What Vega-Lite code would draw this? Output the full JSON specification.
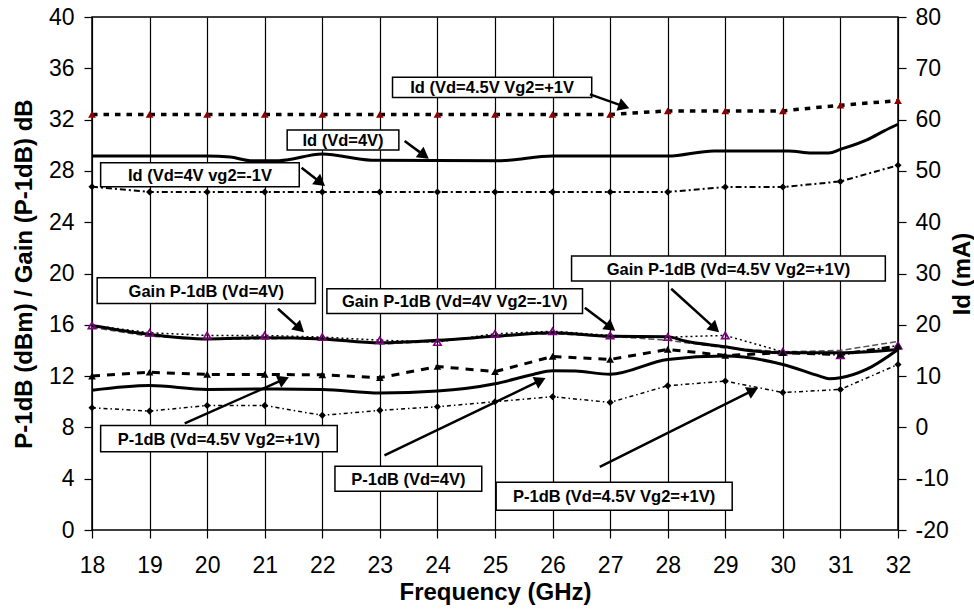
{
  "$schema": "https://vega.github.io/schema/vega-lite/v6.json",
  "width": 806,
  "height": 513,
  "autosize": "none",
  "padding": {"left": 92, "top": 17, "right": 76, "bottom": 81},
  "background": "white",
  "config": {
    "view": {"stroke": "black", "strokeWidth": 1.5},
    "font": "Liberation Sans",
    "axis": {
      "labelFont": "Liberation Sans", "labelFontSize": 23, "labelColor": "black",
      "titleFont": "Liberation Sans", "titleFontSize": 24, "titleFontWeight": "bold", "titleColor": "black",
      "domainColor": "black", "domainWidth": 1.5, "tickColor": "black", "tickWidth": 1.2, "tickSize": 8,
      "gridColor": "black", "gridOpacity": 1, "gridWidth": 1.2
    }
  },
  "datasets": {
    "series": [
      {"s": "IdA", "f": 18, "v": 61}, {"s": "IdA", "f": 19, "v": 61}, {"s": "IdA", "f": 20, "v": 61}, {"s": "IdA", "f": 21, "v": 61},
      {"s": "IdA", "f": 22, "v": 61}, {"s": "IdA", "f": 23, "v": 61}, {"s": "IdA", "f": 24, "v": 61}, {"s": "IdA", "f": 25, "v": 61},
      {"s": "IdA", "f": 26, "v": 61}, {"s": "IdA", "f": 27, "v": 61}, {"s": "IdA", "f": 28, "v": 61.7}, {"s": "IdA", "f": 29, "v": 61.7},
      {"s": "IdA", "f": 30, "v": 61.7}, {"s": "IdA", "f": 31, "v": 62.8}, {"s": "IdA", "f": 32, "v": 63.7},

      {"s": "IdB", "f": 18, "v": 52.9}, {"s": "IdB", "f": 19, "v": 52.9}, {"s": "IdB", "f": 20, "v": 52.9}, {"s": "IdB", "f": 20.4, "v": 52.7},
      {"s": "IdB", "f": 20.75, "v": 52.0}, {"s": "IdB", "f": 21.25, "v": 52.0}, {"s": "IdB", "f": 22.0, "v": 53.3}, {"s": "IdB", "f": 22.85, "v": 52.1},
      {"s": "IdB", "f": 25.1, "v": 52.0}, {"s": "IdB", "f": 26, "v": 52.9}, {"s": "IdB", "f": 28, "v": 52.9}, {"s": "IdB", "f": 28.8, "v": 53.9},
      {"s": "IdB", "f": 30.1, "v": 53.9}, {"s": "IdB", "f": 30.5, "v": 53.5}, {"s": "IdB", "f": 30.8, "v": 53.5}, {"s": "IdB", "f": 31.0, "v": 54.2},
      {"s": "IdB", "f": 31.47, "v": 56.1}, {"s": "IdB", "f": 31.76, "v": 57.8}, {"s": "IdB", "f": 32, "v": 59.1},

      {"s": "IdC", "f": 18, "v": 46.9}, {"s": "IdC", "f": 19, "v": 45.9}, {"s": "IdC", "f": 20, "v": 45.9}, {"s": "IdC", "f": 21, "v": 45.9},
      {"s": "IdC", "f": 22, "v": 45.9}, {"s": "IdC", "f": 23, "v": 45.9}, {"s": "IdC", "f": 24, "v": 45.9}, {"s": "IdC", "f": 25, "v": 45.9},
      {"s": "IdC", "f": 26, "v": 45.9}, {"s": "IdC", "f": 27, "v": 45.9}, {"s": "IdC", "f": 28, "v": 45.9}, {"s": "IdC", "f": 29, "v": 46.85},
      {"s": "IdC", "f": 30, "v": 46.85}, {"s": "IdC", "f": 31, "v": 47.95}, {"s": "IdC", "f": 32, "v": 51.1},

      {"s": "GA", "f": 18, "v": 15.95}, {"s": "GA", "f": 19, "v": 15.38}, {"s": "GA", "f": 20, "v": 15.17}, {"s": "GA", "f": 21, "v": 15.17},
      {"s": "GA", "f": 22, "v": 15.04}, {"s": "GA", "f": 23, "v": 14.8}, {"s": "GA", "f": 24, "v": 14.65}, {"s": "GA", "f": 25, "v": 15.3},
      {"s": "GA", "f": 26, "v": 15.5}, {"s": "GA", "f": 27, "v": 15.17}, {"s": "GA", "f": 28, "v": 15.04}, {"s": "GA", "f": 29, "v": 15.17},
      {"s": "GA", "f": 30, "v": 13.9}, {"s": "GA", "f": 31, "v": 13.63}, {"s": "GA", "f": 32, "v": 14.39},

      {"s": "GB", "f": 18, "v": 15.95}, {"s": "GB", "f": 19, "v": 15.25}, {"s": "GB", "f": 20, "v": 14.9}, {"s": "GB", "f": 21, "v": 15.0},
      {"s": "GB", "f": 22, "v": 14.9}, {"s": "GB", "f": 23, "v": 14.6}, {"s": "GB", "f": 24, "v": 14.8}, {"s": "GB", "f": 25, "v": 15.1},
      {"s": "GB", "f": 26, "v": 15.38}, {"s": "GB", "f": 27, "v": 15.1}, {"s": "GB", "f": 28, "v": 15.07}, {"s": "GB", "f": 28.3, "v": 14.73},
      {"s": "GB", "f": 29, "v": 14.29}, {"s": "GB", "f": 29.5, "v": 13.95}, {"s": "GB", "f": 30, "v": 13.82}, {"s": "GB", "f": 31, "v": 13.82},
      {"s": "GB", "f": 32, "v": 14.08},

      {"s": "GC", "f": 18, "v": 15.8}, {"s": "GC", "f": 19, "v": 15.1}, {"s": "GC", "f": 20, "v": 14.9}, {"s": "GC", "f": 21, "v": 14.9},
      {"s": "GC", "f": 22, "v": 15.0}, {"s": "GC", "f": 23, "v": 14.5}, {"s": "GC", "f": 24, "v": 14.7}, {"s": "GC", "f": 25, "v": 15.2},
      {"s": "GC", "f": 26, "v": 15.3}, {"s": "GC", "f": 27, "v": 15.1}, {"s": "GC", "f": 28, "v": 14.8}, {"s": "GC", "f": 29, "v": 14.2},
      {"s": "GC", "f": 30, "v": 13.9}, {"s": "GC", "f": 31, "v": 14.0}, {"s": "GC", "f": 32, "v": 14.7},

      {"s": "PA", "f": 18, "v": 12.0}, {"s": "PA", "f": 19, "v": 12.3}, {"s": "PA", "f": 20, "v": 12.13}, {"s": "PA", "f": 21, "v": 12.13},
      {"s": "PA", "f": 22, "v": 12.1}, {"s": "PA", "f": 23, "v": 11.87}, {"s": "PA", "f": 24, "v": 12.75}, {"s": "PA", "f": 25, "v": 12.35},
      {"s": "PA", "f": 26, "v": 13.53}, {"s": "PA", "f": 27, "v": 13.3}, {"s": "PA", "f": 28, "v": 14.08}, {"s": "PA", "f": 29, "v": 13.61},
      {"s": "PA", "f": 30, "v": 13.82}, {"s": "PA", "f": 31, "v": 13.69}, {"s": "PA", "f": 32, "v": 14.34},

      {"s": "PB", "f": 18, "v": 10.9}, {"s": "PB", "f": 19, "v": 11.27}, {"s": "PB", "f": 20, "v": 10.96}, {"s": "PB", "f": 21, "v": 11.0},
      {"s": "PB", "f": 22, "v": 10.96}, {"s": "PB", "f": 23, "v": 10.68}, {"s": "PB", "f": 24, "v": 10.83}, {"s": "PB", "f": 25, "v": 11.4},
      {"s": "PB", "f": 25.66, "v": 12.13}, {"s": "PB", "f": 26, "v": 12.42}, {"s": "PB", "f": 26.4, "v": 12.39}, {"s": "PB", "f": 27, "v": 12.15},
      {"s": "PB", "f": 28, "v": 13.3}, {"s": "PB", "f": 29, "v": 13.56}, {"s": "PB", "f": 30, "v": 12.91}, {"s": "PB", "f": 30.64, "v": 12.0},
      {"s": "PB", "f": 30.8, "v": 11.8}, {"s": "PB", "f": 31, "v": 11.87}, {"s": "PB", "f": 31.45, "v": 12.52}, {"s": "PB", "f": 32, "v": 14.08},

      {"s": "PC", "f": 18, "v": 9.53}, {"s": "PC", "f": 19, "v": 9.27}, {"s": "PC", "f": 20, "v": 9.71}, {"s": "PC", "f": 21, "v": 9.71},
      {"s": "PC", "f": 22, "v": 8.94}, {"s": "PC", "f": 23, "v": 9.33}, {"s": "PC", "f": 24, "v": 9.61}, {"s": "PC", "f": 25, "v": 10.0},
      {"s": "PC", "f": 26, "v": 10.39}, {"s": "PC", "f": 27, "v": 9.95}, {"s": "PC", "f": 28, "v": 11.25}, {"s": "PC", "f": 29, "v": 11.61},
      {"s": "PC", "f": 30, "v": 10.72}, {"s": "PC", "f": 31, "v": 10.96}, {"s": "PC", "f": 32, "v": 12.91}
    ],
    "notes": [
      {"label": "Id (Vd=4.5V  Vg2=+1V", "bx": 23.22, "bx2": 26.68, "by": 35.3, "by2": 33.73, "ax": 26.65, "ay": 33.97, "ax2": 27.24, "ay2": 33.03},
      {"label": "Id (Vd=4V)", "bx": 21.39, "bx2": 23.33, "by": 31.19, "by2": 29.63, "ax": 23.43, "ay": 30.33, "ax2": 23.77, "ay2": 29.21},
      {"label": "Id (Vd=4V vg2=-1V", "bx": 18.15, "bx2": 21.6, "by": 28.64, "by2": 26.77, "ax": 21.64, "ay": 28.25, "ax2": 21.97, "ay2": 27.1},
      {"label": "Gain P-1dB (Vd=4V)", "bx": 18.09, "bx2": 21.88, "by": 19.67, "by2": 17.67, "ax": 21.23, "ay": 17.25, "ax2": 21.61, "ay2": 15.72},
      {"label": "Gain P-1dB (Vd=4V Vg2=-1V)", "bx": 22.08, "bx2": 26.52, "by": 18.81, "by2": 16.89, "ax": 26.56, "ay": 17.33, "ax2": 27.01, "ay2": 15.8},
      {"label": "Gain P-1dB (Vd=4.5V  Vg2=+1V)", "bx": 26.33, "bx2": 31.78, "by": 21.36, "by2": 19.41, "ax": 28.06, "ay": 18.81, "ax2": 28.82, "ay2": 15.72},
      {"label": "P-1dB (Vd=4.5V Vg2=+1V)", "bx": 18.15, "bx2": 22.26, "by": 8.15, "by2": 6.1, "ax": 19.61, "ay": 8.31, "ax2": 21.33, "ay2": 11.74},
      {"label": "P-1dB (Vd=4V)", "bx": 22.22, "bx2": 24.77, "by": 4.98, "by2": 3.03, "ax": 23.08, "ay": 5.81, "ax2": 25.79, "ay2": 11.66},
      {"label": "P-1dB (Vd=4.5V Vg2=+1V)", "bx": 25.02, "bx2": 29.12, "by": 3.73, "by2": 1.54, "ax": 26.82, "ay": 4.93, "ax2": 29.48, "ay2": 10.88}
    ]
  },
  "layer": [
    {
      "data": {"name": "series"},
      "layer": [
        {
          "transform": [{"filter": "datum.s === 'IdB'"}],
          "mark": {"type": "line", "color": "black", "strokeWidth": 3, "interpolate": "monotone"},
          "encoding": {
            "x": {"field": "f", "type": "quantitative", "scale": {"domain": [18, 32], "nice": false}},
            "y": {"field": "v", "type": "quantitative", "scale": {"domain": [-20, 80], "nice": false, "zero": false},
                  "axis": {"orient": "right", "title": "Id (mA)", "values": [-20, -10, 0, 10, 20, 30, 40, 50, 60, 70, 80], "grid": false,
                           "labelExpr": "'' + datum.value", "labelPadding": 9, "titleAngle": 270, "titleBaseline": "top", "titlePadding": 2, "domain": false}}
          }
        },
        {
          "transform": [{"filter": "datum.s === 'IdC'"}],
          "mark": {"type": "line", "color": "black", "strokeWidth": 2, "strokeDash": [6, 3, 2, 3]},
          "encoding": {"x": {"field": "f", "type": "quantitative"}, "y": {"field": "v", "type": "quantitative"}}
        },
        {
          "transform": [{"filter": "datum.s === 'IdC'"}],
          "mark": {"type": "point", "shape": "diamond", "filled": true, "color": "black", "size": 50, "opacity": 1},
          "encoding": {"x": {"field": "f", "type": "quantitative"}, "y": {"field": "v", "type": "quantitative"}}
        },
        {
          "transform": [{"filter": "datum.s === 'IdA'"}],
          "mark": {"type": "line", "color": "black", "strokeWidth": 3.5, "strokeDash": [5.5, 6]},
          "encoding": {"x": {"field": "f", "type": "quantitative"}, "y": {"field": "v", "type": "quantitative"}}
        },
        {
          "transform": [{"filter": "datum.s === 'IdA'"}],
          "mark": {"type": "point", "shape": "triangle-up", "filled": true, "color": "#8B0000", "size": 60, "opacity": 1},
          "encoding": {"x": {"field": "f", "type": "quantitative"}, "y": {"field": "v", "type": "quantitative"}}
        }
      ]
    },
    {
      "layer": [
        {
          "data": {"name": "series"},
          "transform": [{"filter": "datum.s === 'GC'"}],
          "mark": {"type": "line", "color": "#555555", "strokeWidth": 1.5, "strokeDash": [6, 3]},
          "encoding": {
            "x": {"field": "f", "type": "quantitative", "scale": {"domain": [18, 32], "nice": false},
                  "axis": {"title": "Frequency (GHz)", "values": [18, 19, 20, 21, 22, 23, 24, 25, 26, 27, 28, 29, 30, 31, 32],
                           "format": "d", "labelPadding": 16, "titlePadding": 3, "labelFlush": false, "domain": false}},
            "y": {"field": "v", "type": "quantitative", "scale": {"domain": [0, 40], "nice": false},
                  "axis": {"orient": "left", "title": "P-1dB (dBm) / Gain (P-1dB) dB",
                           "values": [0, 2, 4, 6, 8, 10, 12, 14, 16, 18, 20, 22, 24, 26, 28, 30, 32, 34, 36, 38, 40],
                           "labelExpr": "datum.value % 4 === 0 ? datum.label : ''",
                           "tickOpacity": {"condition": {"test": "datum.value % 4 === 0", "value": 1}, "value": 0},
                           "labelPadding": 10, "titlePadding": 12, "domain": false}}
          }
        },
        {
          "data": {"name": "series"},
          "transform": [{"filter": "datum.s === 'GA'"}],
          "mark": {"type": "line", "color": "black", "strokeWidth": 1.5, "strokeDash": [2, 3]},
          "encoding": {"x": {"field": "f", "type": "quantitative"}, "y": {"field": "v", "type": "quantitative"}}
        },
        {
          "data": {"name": "series"},
          "transform": [{"filter": "datum.s === 'GB'"}],
          "mark": {"type": "line", "color": "black", "strokeWidth": 3, "interpolate": "monotone"},
          "encoding": {"x": {"field": "f", "type": "quantitative"}, "y": {"field": "v", "type": "quantitative"}}
        },
        {
          "data": {"name": "series"},
          "transform": [{"filter": "datum.s === 'PC'"}],
          "mark": {"type": "line", "color": "black", "strokeWidth": 1.5, "strokeDash": [4, 3, 1.5, 3]},
          "encoding": {"x": {"field": "f", "type": "quantitative"}, "y": {"field": "v", "type": "quantitative"}}
        },
        {
          "data": {"name": "series"},
          "transform": [{"filter": "datum.s === 'PB'"}],
          "mark": {"type": "line", "color": "black", "strokeWidth": 3, "interpolate": "monotone"},
          "encoding": {"x": {"field": "f", "type": "quantitative"}, "y": {"field": "v", "type": "quantitative"}}
        },
        {
          "data": {"name": "series"},
          "transform": [{"filter": "datum.s === 'PA'"}],
          "mark": {"type": "line", "color": "black", "strokeWidth": 3, "strokeDash": [8, 7]},
          "encoding": {"x": {"field": "f", "type": "quantitative"}, "y": {"field": "v", "type": "quantitative"}}
        },
        {
          "data": {"name": "series"},
          "transform": [{"filter": "datum.s === 'GA'"}],
          "mark": {"type": "point", "shape": "triangle-up", "filled": false, "color": "#800080", "strokeWidth": 1.6, "size": 55, "opacity": 1},
          "encoding": {"x": {"field": "f", "type": "quantitative"}, "y": {"field": "v", "type": "quantitative"}}
        },
        {
          "data": {"name": "series"},
          "transform": [{"filter": "datum.s === 'PA'"}],
          "mark": {"type": "point", "shape": "triangle-up", "filled": true, "color": "black", "size": 60, "opacity": 1},
          "encoding": {"x": {"field": "f", "type": "quantitative"}, "y": {"field": "v", "type": "quantitative"}}
        },
        {
          "data": {"name": "series"},
          "transform": [{"filter": "datum.s === 'PC'"}],
          "mark": {"type": "point", "shape": "diamond", "filled": true, "color": "black", "size": 50, "opacity": 1},
          "encoding": {"x": {"field": "f", "type": "quantitative"}, "y": {"field": "v", "type": "quantitative"}}
        },
        {
          "data": {"name": "notes"},
          "mark": {"type": "rect", "fill": "white", "stroke": "black", "strokeWidth": 1.5},
          "encoding": {
            "x": {"field": "bx", "type": "quantitative"}, "x2": {"field": "bx2"},
            "y": {"field": "by", "type": "quantitative"}, "y2": {"field": "by2"}
          }
        },
        {
          "data": {"name": "notes"},
          "transform": [
            {"calculate": "(datum.bx + datum.bx2) / 2", "as": "cx"},
            {"calculate": "(datum.by + datum.by2) / 2", "as": "cy"}
          ],
          "mark": {"type": "text", "font": "Liberation Sans", "fontWeight": "bold", "fontSize": 16.5, "color": "black", "align": "center", "baseline": "middle", "dy": 1},
          "encoding": {
            "x": {"field": "cx", "type": "quantitative"},
            "y": {"field": "cy", "type": "quantitative"},
            "text": {"field": "label", "type": "nominal"}
          }
        },
        {
          "data": {"name": "notes"},
          "mark": {"type": "rule", "color": "black", "strokeWidth": 2.5},
          "encoding": {
            "x": {"field": "ax", "type": "quantitative"}, "x2": {"field": "ax2"},
            "y": {"field": "ay", "type": "quantitative"}, "y2": {"field": "ay2"}
          }
        },
        {
          "data": {"name": "notes"},
          "transform": [
            {"calculate": "atan2((datum.ax2 - datum.ax) * 57.57, (datum.ay2 - datum.ay) * 12.82) * 180 / PI", "as": "ang"}
          ],
          "mark": {"type": "point", "shape": "triangle-up", "filled": true, "color": "black", "size": 170, "opacity": 1},
          "encoding": {
            "x": {"field": "ax2", "type": "quantitative"},
            "y": {"field": "ay2", "type": "quantitative"},
            "angle": {"field": "ang", "type": "quantitative", "scale": null}
          }
        }
      ]
    }
  ],
  "resolve": {"scale": {"y": "independent"}}
}
